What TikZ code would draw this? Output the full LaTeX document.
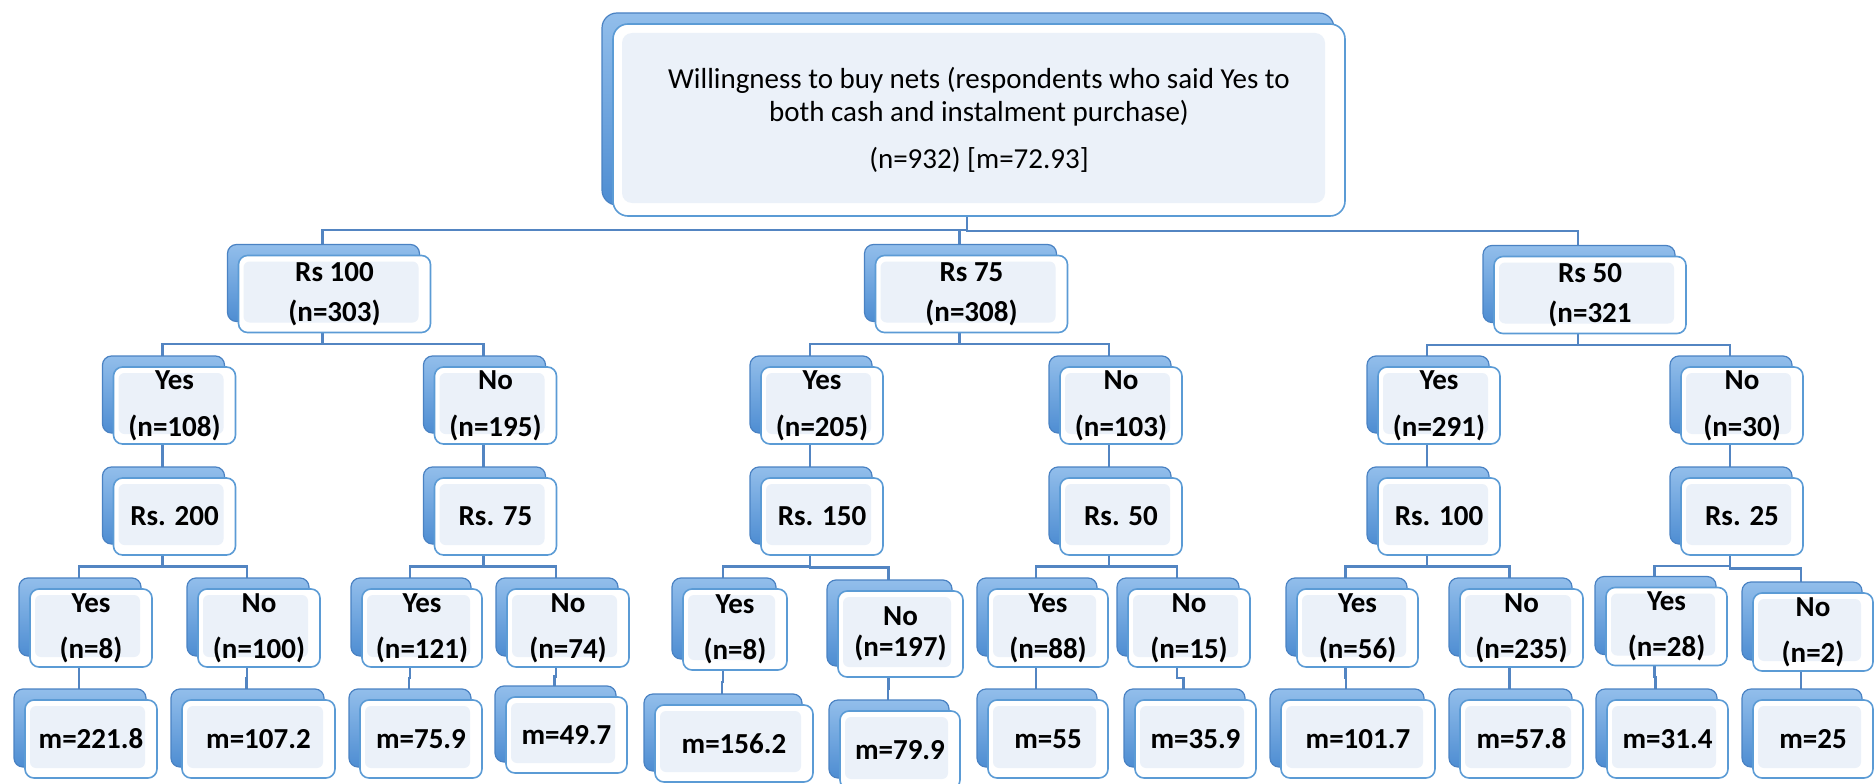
\documentclass[tikz,border=0pt]{standalone}
\usepackage{fontspec}
\setmainfont{Carlito}
\usetikzlibrary{shadows,calc}
\pgfdeclarelayer{background}
\pgfsetlayers{background,main}
\definecolor{edgeblue}{HTML}{5385C2}
\definecolor{boxline}{HTML}{5B9BD5}
\definecolor{backtop}{HTML}{92BEEB}
\definecolor{backbot}{HTML}{4E8DD2}
\definecolor{backline}{HTML}{4A82C3}
\definecolor{innerfill}{HTML}{EBF1F9}
\tikzset{
  boxbase/.style={rectangle, draw=boxline, line width=1.6pt, fill=white,
    inner sep=0pt, align=center,
    general shadow={shadow xshift=-11pt, shadow yshift=11pt,
      top color=backtop, bottom color=backbot, draw=backline, line width=1.2pt}},
  box/.style={boxbase, rounded corners=9pt, minimum width=122pt, minimum height=78pt,
    font=\bfseries\fontsize{29}{46}\selectfont,
    path picture={\fill[innerfill, rounded corners=6pt]
      ([shift={(5pt,10pt)}]path picture bounding box.south west) rectangle
      ([shift={(-12pt,-6pt)}]path picture bounding box.north east);}},
  topbox/.style={boxbase, rounded corners=15pt, minimum width=732pt, minimum height=192pt,
    font=\fontsize{29}{33}\selectfont,
    path picture={\fill[innerfill, rounded corners=10pt]
      ([shift={(9pt,13pt)}]path picture bounding box.south west) rectangle
      ([shift={(-20pt,-9pt)}]path picture bounding box.north east);}},
  lvlone/.style={box, minimum width=192pt, minimum height=77pt,
    font=\bfseries\fontsize{29}{40}\selectfont},
  lvltwo/.style={box, minimum height=77pt, font=\bfseries\fontsize{29}{47}\selectfont},
  link/.style={draw=edgeblue, line width=2.4pt,
    to path={([xshift=-12pt]\tikztostart.center) |-
      ($([xshift=-12pt]\tikztostart.south)!0.5!([xshift=-12pt,yshift=11pt]\tikztotarget.north)$) -|
      ([xshift=-12pt]\tikztotarget.north)}}
}
\begin{document}
\begin{tikzpicture}[x=1pt,y=-1pt]
\useasboundingbox (0,0) rectangle (1874,784);
% root
\node[topbox] (T) at (979,120) {Willingness to buy nets (respondents who said Yes to\\both cash and instalment purchase)\\[14pt](n=932) [m=72.93]};
% level 1
\node[lvlone] (A1) at (334.5,294) {Rs 100\\(n=303)};
\node[lvlone] (A2) at (971.5,294) {Rs 75\\(n=308)};
\node[lvlone] (A3) at (1590,295) {Rs 50\\(n=321};
% level 2
\node[lvltwo] (B1) at (174.5,405.5) {Yes\\(n=108)};
\node[lvltwo] (B2) at (495.5,405.5) {No\\(n=195)};
\node[lvltwo] (B3) at (822,405.5) {Yes\\(n=205)};
\node[lvltwo] (B4) at (1121,405.5) {No\\(n=103)};
\node[lvltwo] (B5) at (1439,405.5) {Yes\\(n=291)};
\node[lvltwo] (B6) at (1742,405.5) {No\\(n=30)};
% level 3
\node[box, minimum height=77pt] (C1) at (174.5,516.5) {Rs. 200};
\node[box, minimum height=77pt] (C2) at (495.5,516.5) {Rs. 75};
\node[box, minimum height=77pt] (C3) at (822,516.5) {Rs. 150};
\node[box, minimum height=77pt] (C4) at (1121,516.5) {Rs. 50};
\node[box, minimum height=77pt] (C5) at (1439,516.5) {Rs. 100};
\node[box, minimum height=77pt] (C6) at (1742,516.5) {Rs. 25};
% level 4
\node[box] (D1) at (91,628) {Yes\\(n=8)};
\node[box] (D2) at (259,628) {No\\(n=100)};
\node[box, minimum width=120pt] (D3) at (422,628) {Yes\\(n=121)};
\node[box] (D4) at (568,628) {No\\(n=74)};
\node[box, minimum width=104pt, minimum height=81pt] (D5) at (735,629.5) {Yes\\(n=8)};
\node[box, minimum width=125pt, minimum height=86pt, font=\bfseries\fontsize{29}{31}\selectfont] (D6) at (900.5,634) {No\\(n=197)};
\node[box, minimum width=120pt] (D7) at (1048,628) {Yes\\(n=88)};
\node[box] (D8) at (1189,628) {No\\(n=15)};
\node[box, minimum width=121pt] (D9) at (1357.5,628) {Yes\\(n=56)};
\node[box, minimum width=123pt] (D10) at (1521.5,628) {No\\(n=235)};
\node[box, minimum width=121pt] (D11) at (1666.5,626.5) {Yes\\(n=28)};
\node[box, minimum width=120pt] (D12) at (1813,632) {No\\(n=2)};
% level 5
\node[box, minimum width=132pt] (E1) at (91,739) {m=221.8};
\node[box, minimum width=153pt] (E2) at (258.5,739) {m=107.2};
\node[box] (E3) at (421,739) {m=75.9};
\node[box, minimum width=121pt, minimum height=76pt] (E4) at (566.5,735) {m=49.7};
\node[box, minimum width=158pt, minimum height=77pt] (E5) at (734,743.5) {m=156.2};
\node[box, minimum width=120pt] (E6) at (900,750) {m=79.9};
\node[box, minimum width=120pt] (E7) at (1048,739) {m=55};
\node[box, minimum width=121pt] (E8) at (1195.5,739) {m=35.9};
\node[box, minimum width=154pt] (E9) at (1358,739) {m=101.7};
\node[box, minimum width=123pt] (E10) at (1521.5,739) {m=57.8};
\node[box, minimum width=121pt] (E11) at (1667.5,739) {m=31.4};
\node[box, minimum width=120pt] (E12) at (1813,739) {m=25};
% connectors
\begin{pgfonlayer}{background}
\draw[link] (T) to (A1);
\draw[link] (T) to (A2);
\draw[link] (T) to (A3);
\draw[link] (A1) to (B1);
\draw[link] (A1) to (B2);
\draw[link] (A2) to (B3);
\draw[link] (A2) to (B4);
\draw[link] (A3) to (B5);
\draw[link] (A3) to (B6);
\draw[link] (B1) to (C1);
\draw[link] (B2) to (C2);
\draw[link] (B3) to (C3);
\draw[link] (B4) to (C4);
\draw[link] (B5) to (C5);
\draw[link] (B6) to (C6);
\draw[link] (C1) to (D1);
\draw[link] (C1) to (D2);
\draw[link] (C2) to (D3);
\draw[link] (C2) to (D4);
\draw[link] (C3) to (D5);
\draw[link] (C3) to (D6);
\draw[link] (C4) to (D7);
\draw[link] (C4) to (D8);
\draw[link] (C5) to (D9);
\draw[link] (C5) to (D10);
\draw[link] (C6) to (D11);
\draw[link] (C6) to (D12);
\draw[link] (D1) to (E1);
\draw[link] (D2) to (E2);
\draw[link] (D3) to (E3);
\draw[link] (D4) to (E4);
\draw[link] (D5) to (E5);
\draw[link] (D6) to (E6);
\draw[link] (D7) to (E7);
\draw[link] (D8) to (E8);
\draw[link] (D9) to (E9);
\draw[link] (D10) to (E10);
\draw[link] (D11) to (E11);
\draw[link] (D12) to (E12);
\end{pgfonlayer}
\end{tikzpicture}
\end{document}
